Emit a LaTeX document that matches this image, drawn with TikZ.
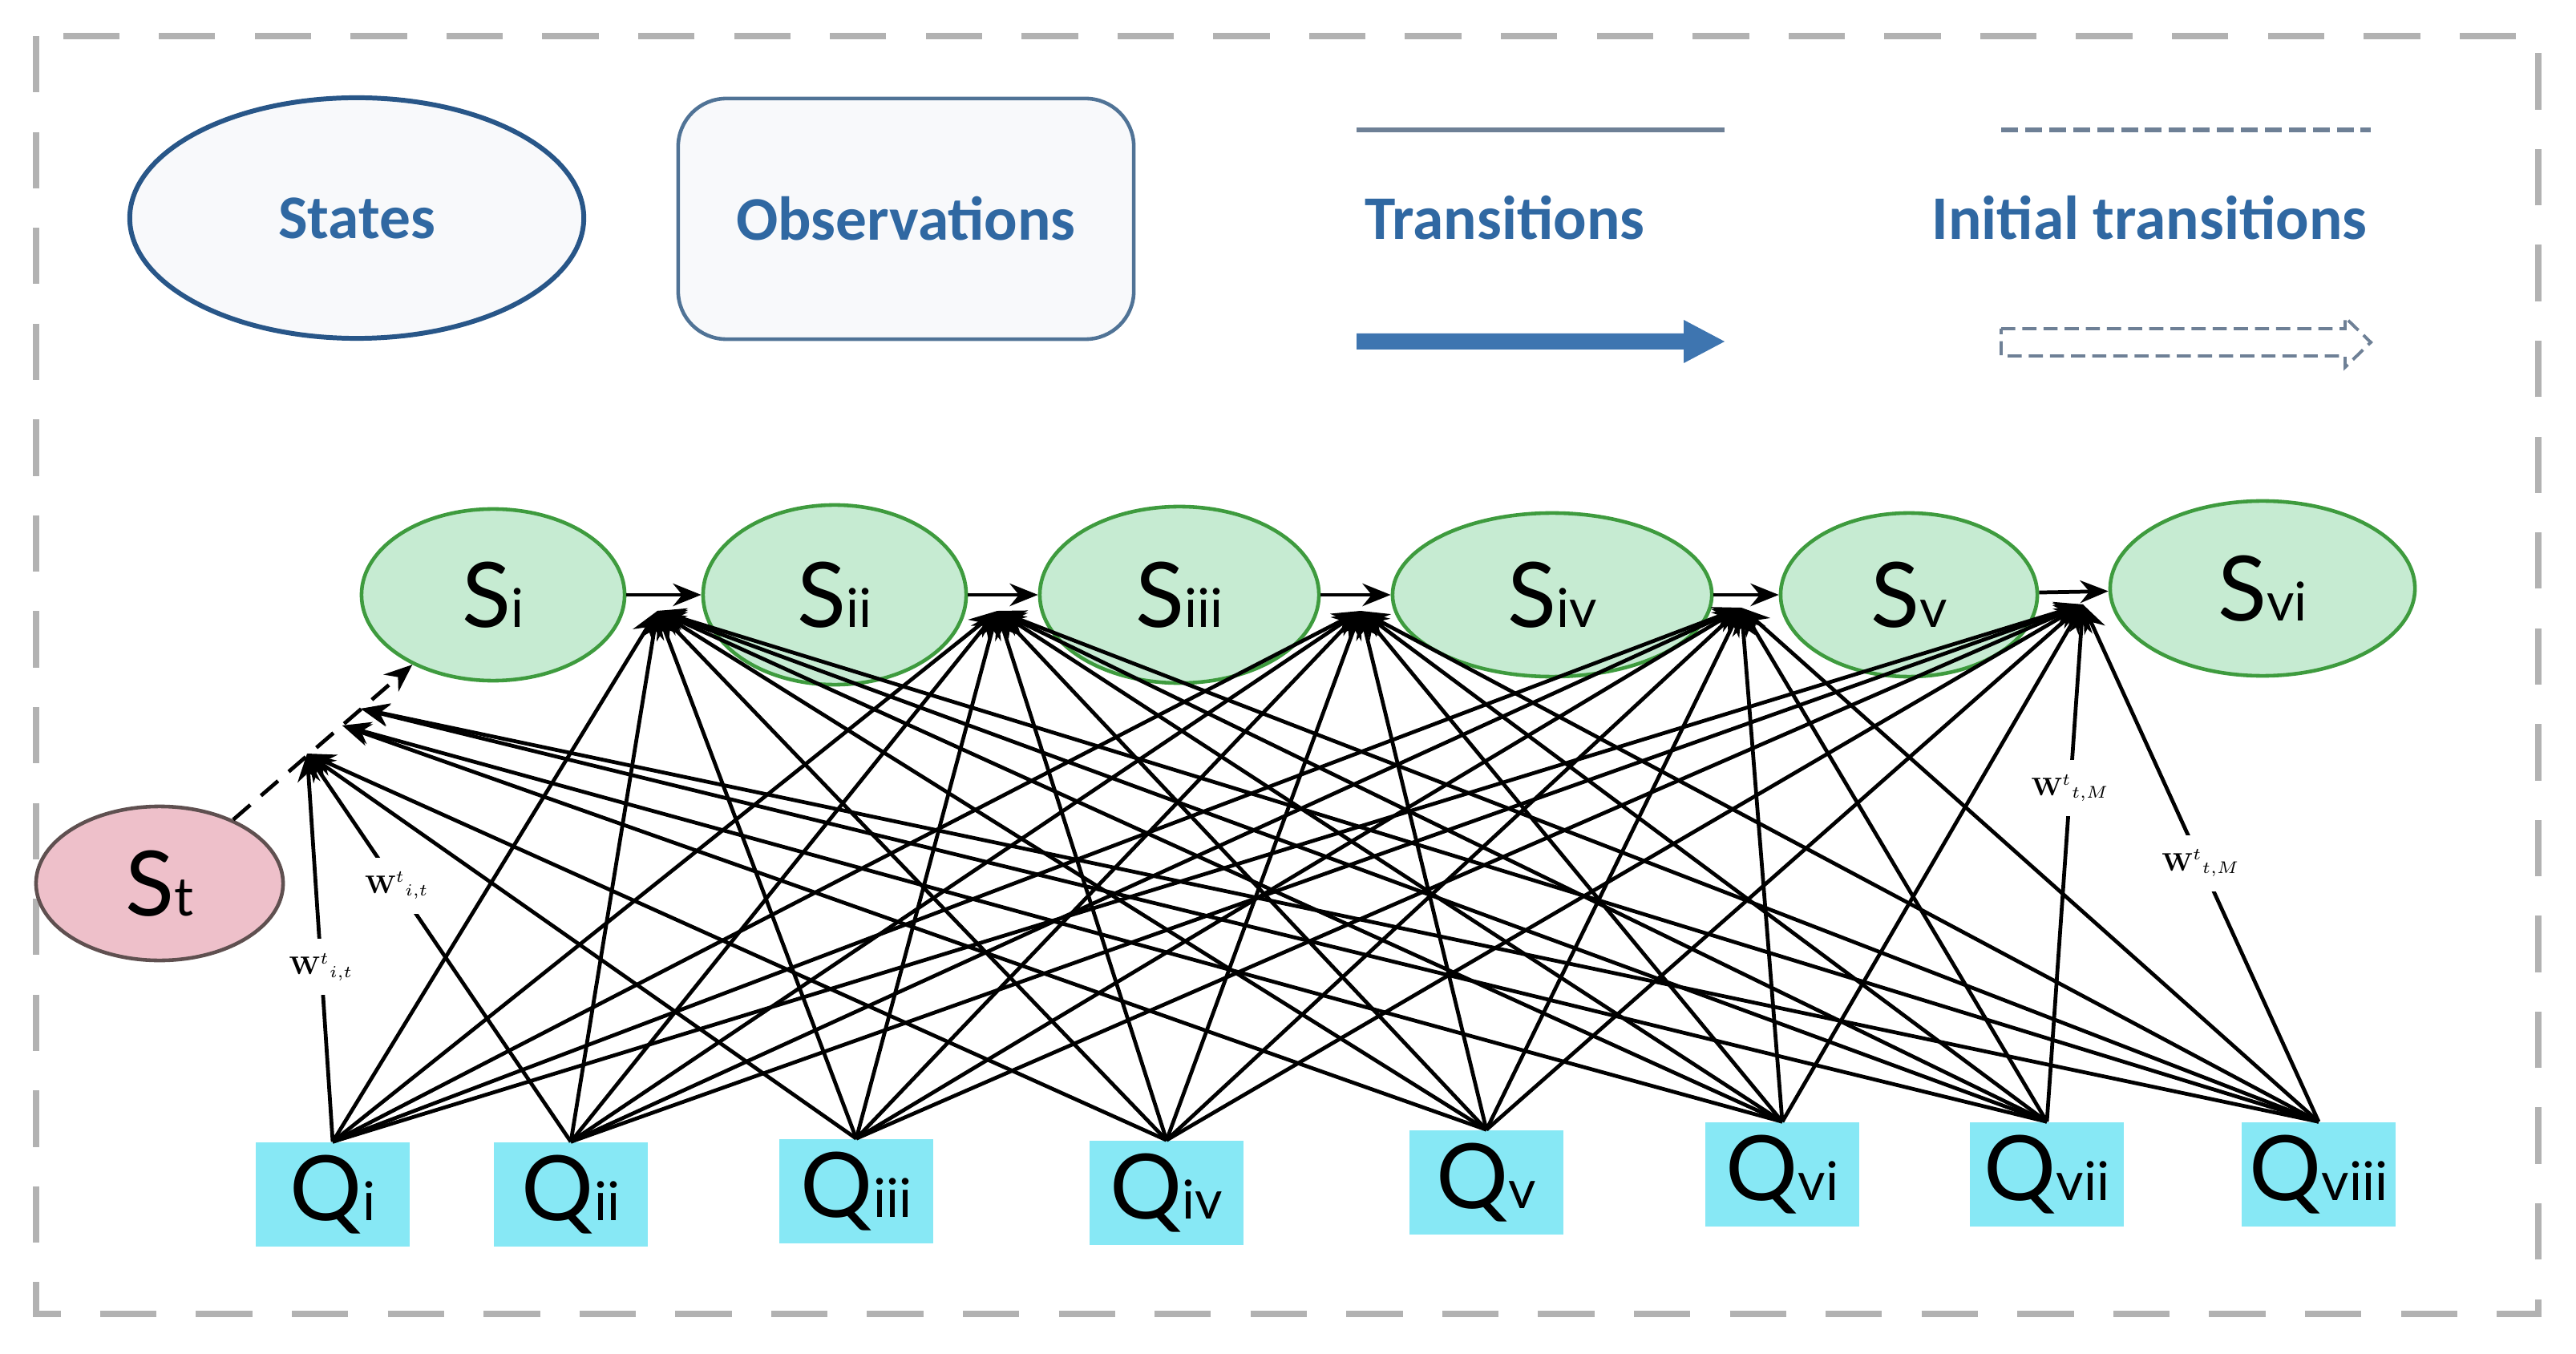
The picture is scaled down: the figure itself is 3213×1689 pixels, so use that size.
\documentclass[tikz,border=0pt]{standalone}
\usepackage{fontspec}
\newfontfamily\legfont{Carlito}
\newfontfamily\nfont{Lato}
\usetikzlibrary{arrows.meta,shapes.geometric}
\definecolor{framegray}{RGB}{178,178,178}
\definecolor{legblue}{RGB}{48,104,162}
\definecolor{legedge}{RGB}{40,86,136}
\definecolor{obsedge}{RGB}{80,115,150}
\definecolor{legfill}{RGB}{248,249,251}
\definecolor{legline}{RGB}{110,128,150}
\definecolor{arrblue}{RGB}{62,117,176}
\definecolor{sfill}{RGB}{198,235,210}
\definecolor{sedge}{RGB}{62,155,62}
\definecolor{tfill}{RGB}{238,192,202}
\definecolor{tedge}{RGB}{95,80,80}
\definecolor{qfill}{RGB}{135,232,245}
\newcommand\sbx[1]{{\fontsize{19}{19}\selectfont #1}}
\begin{document}
\begin{tikzpicture}[x=0.01cm,y=-0.01cm,
  legtext/.style={font=\legfont\bfseries\fontsize{22}{22}\selectfont, text=legblue, inner sep=0pt},
  statenode/.style={ellipse, draw=sedge, fill=sfill, line width=1.3pt, inner sep=0pt,
    font=\nfont\fontsize{32}{32}\selectfont},
  obsnode/.style={rectangle, fill=qfill, minimum width=1.92cm, minimum height=1.3cm, inner sep=0pt,
    font=\nfont\fontsize{32}{32}\selectfont},
  edge/.style={line width=1.35pt, -{Stealth[length=10pt,width=8pt]}},
  wlab/.style={fill=white, inner xsep=1pt, inner ysep=0.18cm, font=\fontsize{9}{9}\selectfont}]
\useasboundingbox (0,0) rectangle (3213,1689);
\fill[white] (0,0) rectangle (3213,1689);
% frame
\draw[framegray, line width=2.2pt, dash pattern=on 20pt off 14pt] (45,45) rectangle (3166,1639);
% legend
\node[ellipse, draw=legedge, fill=legfill, line width=1.7pt, minimum width=5.66cm, minimum height=3.0cm, legtext] (lstates) at (445,272) {States};
\node[rectangle, rounded corners=0.6cm, draw=obsedge, fill=legfill, line width=1.3pt, minimum width=5.68cm, minimum height=3.0cm, legtext] (lobs) at (1130,273) {Observations};
\coordinate (tla) at (1692,162);
\coordinate (tlb) at (2151,162);
\draw[legline, line width=1.7pt] (tla) -- (tlb);
\node[legtext] (ltrans) at (1877,272) {Transitions};
\fill[arrblue] (1692,416) -- (2100,416) -- (2100,399) -- (2151,426) -- (2100,453) -- (2100,436) -- (1692,436) -- cycle;
\coordinate (ila) at (2496,162);
\coordinate (ilb) at (2957,162);
\draw[legline, line width=1.7pt, dash pattern=on 6pt off 2.5pt] (ila) -- (ilb);
\node[legtext] (linit) at (2681,272) {Initial transitions};
\draw[legline, line width=1.1pt, dash pattern=on 5pt off 2.5pt] (2496,410) -- (2925,410) -- (2925,396) -- (2957,427) -- (2925,458) -- (2925,444) -- (2496,444) -- cycle;
% states
\node[ellipse, draw=tedge, fill=tfill, line width=1.3pt, inner sep=0pt, minimum width=3.08cm, minimum height=1.92cm, font=\nfont\fontsize{32}{32}\selectfont] (St) at (199,1102) {S\sbx{t}};
\node[statenode, minimum width=3.28cm, minimum height=2.14cm] (S1) at (615,742) {S\sbx{i}};
\node[statenode, minimum width=3.28cm, minimum height=2.24cm] (S2) at (1041,742) {S\sbx{ii}};
\node[statenode, minimum width=3.48cm, minimum height=2.2cm] (S3) at (1471,742) {S\sbx{iii}};
\node[statenode, minimum width=3.98cm, minimum height=2.04cm] (S4) at (1936,742) {S\sbx{iv}};
\node[statenode, minimum width=3.2cm, minimum height=2.04cm] (S5) at (2381,742) {S\sbx{v}};
\node[statenode, minimum width=3.8cm, minimum height=2.18cm] (S6) at (2822,734) {S\sbx{vi}};
% observations
\node[obsnode] (Q1) at (415,1490) {Q\sbx{i}};
\node[obsnode] (Q2) at (712,1490) {Q\sbx{ii}};
\node[obsnode] (Q3) at (1068,1486) {Q\sbx{iii}};
\node[obsnode] (Q4) at (1455,1488) {Q\sbx{iv}};
\node[obsnode] (Q5) at (1854,1475) {Q\sbx{v}};
\node[obsnode] (Q6) at (2223,1465) {Q\sbx{vi}};
\node[obsnode] (Q7) at (2553,1465) {Q\sbx{vii}};
\node[obsnode] (Q8) at (2892,1465) {Q\sbx{viii}};
% hubs
\coordinate (h0a) at (383,940);
\coordinate (h0b) at (427,905);
\coordinate (h0c) at (450,884);
\coordinate (h1) at (820,762);
\coordinate (h2) at (1244,762);
\coordinate (h3) at (1697,762);
\coordinate (h4) at (2172,758);
\coordinate (h5) at (2598,754);
% transitions between states
\draw[edge] (S1) -- (S2);
\draw[edge] (S2) -- (S3);
\draw[edge] (S3) -- (S4);
\draw[edge] (S4) -- (S5);
\draw[edge] (S5) -- (S6);
\draw[line width=1.35pt, dash pattern=on 8pt off 5pt, -{Stealth[length=10pt,width=8pt]}] (St) -- (S1);
% observation edges
\foreach \h in {h1,h2,h3,h4} {
  \foreach \q in {1,...,8} {
    \draw[edge] (Q\q.north) -- (\h);
  }
}
\foreach \q in {1,...,6} {\draw[edge] (Q\q.north) -- (h5);}
\draw[edge] (Q3.north) -- (h0a);
\draw[edge] (Q4.north) -- (h0a);
\draw[edge] (Q5.north) -- (h0b);
\draw[edge] (Q6.north) -- (h0b);
\draw[edge] (Q7.north) -- (h0c);
\draw[edge] (Q8.north) -- (h0c);
% labelled edges
\draw[edge] (Q1.north) -- node[wlab, pos=0.45] (w1) {\textbf{W}$^{t}$$_{i,t}$} (h0a);
\draw[edge] (Q2.north) -- node[wlab, pos=0.66] (w2) {\textbf{W}$^{t}$$_{i,t}$} (h0a);
\draw[edge] (Q7.north) -- node[wlab, pos=0.645] (w3) {\textbf{W}$^{t}$$_{t,M}$} (h5);
\draw[edge] (Q8.north) -- node[wlab, pos=0.5] (w4) {\textbf{W}$^{t}$$_{t,M}$} (h5);
\end{tikzpicture}
\end{document}
